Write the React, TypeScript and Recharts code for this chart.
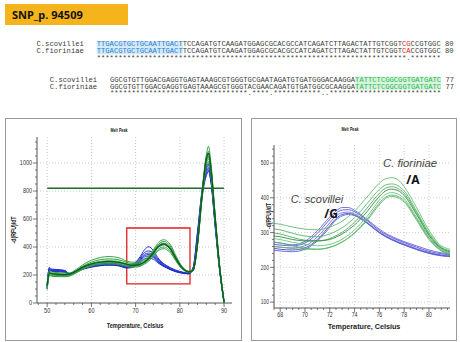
import React from 'react'
import { LineChart, Line, XAxis, YAxis, CartesianGrid, ReferenceArea, ReferenceLine } from 'recharts'

// ---- left panel: full melt curve 50-90 C ----
const leftTemps = [50, 50.5, 51, 52, 53, 54, 55, 56, 58, 60, 62, 64, 66, 68, 69, 70, 71, 72, 73, 74, 75, 76, 76.5, 77, 78, 79, 80, 81, 82, 83, 84, 85, 86, 86.5, 87, 88, 89, 90]

const leftBlue1 = [130, 255, 242, 240, 238, 232, 212, 222, 252, 270, 280, 284, 280, 262, 268, 290, 330, 380, 402, 375, 325, 290, 278, 268, 250, 236, 226, 218, 214, 255, 510, 800, 970, 995, 920, 590, 260, 10]
const leftBlue2 = [120, 250, 238, 236, 234, 230, 210, 220, 250, 268, 278, 282, 278, 260, 265, 285, 320, 360, 372, 355, 315, 285, 273, 264, 246, 233, 223, 216, 212, 250, 500, 790, 960, 985, 910, 580, 250, 5]
const leftBlue3 = [115, 245, 236, 234, 232, 228, 208, 218, 247, 265, 275, 279, 275, 258, 262, 280, 312, 348, 357, 343, 307, 280, 269, 260, 243, 230, 221, 214, 211, 248, 490, 780, 950, 970, 900, 570, 245, 5]
const leftBlue4 = [110, 240, 233, 231, 229, 225, 206, 216, 245, 262, 272, 276, 272, 255, 258, 275, 305, 338, 347, 335, 300, 276, 266, 257, 240, 228, 219, 213, 210, 245, 480, 770, 940, 960, 890, 560, 240, 5]
const leftBlue5 = [105, 236, 230, 228, 226, 222, 204, 214, 242, 259, 269, 273, 269, 252, 255, 270, 298, 328, 336, 327, 295, 272, 262, 254, 238, 226, 218, 212, 209, 242, 470, 760, 925, 950, 880, 550, 235, 5]
const leftBlue6 = [100, 232, 226, 224, 222, 219, 202, 212, 240, 256, 266, 270, 266, 250, 252, 265, 290, 315, 320, 313, 288, 267, 258, 251, 236, 224, 216, 211, 208, 240, 460, 750, 910, 940, 870, 540, 230, 5]

const leftGreen1 = [140, 230, 222, 218, 216, 214, 214, 228, 272, 305, 325, 332, 325, 300, 292, 292, 298, 312, 338, 380, 425, 450, 452, 445, 410, 345, 285, 245, 228, 240, 440, 790, 1060, 1120, 1010, 630, 270, 10]
const leftGreen2 = [130, 220, 214, 210, 208, 206, 208, 222, 262, 292, 310, 315, 310, 290, 283, 282, 288, 303, 330, 370, 413, 437, 440, 433, 398, 336, 280, 242, 226, 238, 430, 775, 1040, 1085, 985, 615, 265, 8]
const leftGreen3 = [120, 212, 206, 202, 200, 199, 202, 216, 255, 282, 298, 302, 298, 280, 274, 274, 280, 296, 322, 360, 402, 426, 428, 421, 388, 328, 275, 240, 224, 236, 425, 765, 1025, 1060, 965, 605, 260, 8]
const leftGreen4 = [110, 205, 200, 197, 196, 195, 198, 212, 250, 276, 290, 294, 290, 274, 268, 268, 274, 290, 315, 352, 392, 413, 415, 408, 376, 320, 270, 237, 222, 234, 420, 755, 1010, 1045, 950, 595, 255, 5]
const leftGreen5 = [100, 200, 196, 193, 192, 191, 195, 208, 245, 270, 283, 286, 283, 268, 262, 262, 268, 284, 308, 343, 380, 399, 400, 394, 364, 312, 265, 234, 220, 232, 415, 745, 995, 1030, 935, 585, 250, 5]
const leftGreen6 = [95, 196, 192, 189, 188, 188, 192, 205, 240, 264, 276, 279, 276, 262, 256, 256, 262, 278, 300, 334, 370, 387, 388, 382, 354, 305, 260, 231, 218, 230, 410, 735, 980, 1010, 920, 575, 245, 5]
const leftGreenDark = [125, 215, 210, 206, 204, 203, 206, 218, 256, 280, 292, 296, 292, 276, 270, 270, 277, 293, 320, 358, 400, 420, 421, 414, 382, 324, 272, 238, 222, 234, 425, 765, 1030, 1070, 970, 605, 258, 6]

const leftBlues = [leftBlue1, leftBlue2, leftBlue3, leftBlue4, leftBlue5, leftBlue6]
const leftGreens = [leftGreen1, leftGreen2, leftGreen3, leftGreen4, leftGreen5, leftGreen6, leftGreenDark]
const leftBlueColors = ['#2b35d8', '#1f2ccf', '#3440e0', '#2030c8', '#2838d6', '#1a28c4']
const leftGreenColors = ['#3aa64a', '#2e9a40', '#45b055', '#2a8f3a', '#3ca84c', '#34a044', '#0b5e1e']

const thresholdLevel = 820
const thresholdFrom = 50
const thresholdTo = 90
const zoomBoxT = [68, 82.3]
const zoomBoxY = [136, 536]

const leftXTicks = [48, 50, 52, 54, 56, 58, 60, 62, 64, 66, 68, 70, 72, 74, 76, 78, 80, 82, 84, 86, 88, 90]
const leftYTicks = [0, 50, 100, 150, 200, 250, 300, 350, 400, 450, 500, 550, 600, 650, 700, 750, 800, 850, 900, 950, 1000, 1050, 1100, 1150]

// ---- right panel: zoom on 68-81 C ----
const rightTemps = [67, 68, 69, 70, 71, 72, 72.5, 73, 73.5, 74, 75, 76, 76.5, 77, 77.5, 78, 79, 80, 81, 82]

const rightBlue1 = [275, 270, 265, 275, 305, 345, 362, 372, 372, 364, 338, 310, 298, 289, 281, 274, 262, 250, 242, 238]
const rightBlue2 = [268, 264, 262, 270, 298, 338, 356, 365, 366, 360, 335, 306, 295, 286, 278, 271, 258, 246, 239, 235]
const rightBlue3 = [262, 258, 256, 262, 288, 328, 348, 357, 359, 354, 330, 302, 291, 282, 274, 267, 254, 243, 236, 233]
const rightBlue4 = [258, 252, 250, 256, 280, 320, 340, 352, 355, 350, 328, 300, 289, 280, 272, 265, 252, 241, 234, 231]
const rightBlue5 = [252, 247, 245, 252, 276, 315, 336, 348, 352, 349, 327, 299, 288, 279, 271, 264, 251, 240, 233, 230]

const rightGreen1 = [328, 324, 316, 310, 308, 316, 323, 333, 346, 362, 402, 442, 455, 458, 452, 432, 372, 307, 262, 250]
const rightGreen2 = [312, 308, 298, 290, 288, 296, 304, 314, 327, 343, 383, 424, 437, 440, 435, 420, 362, 300, 258, 246]
const rightGreen3 = [300, 296, 286, 278, 276, 283, 291, 301, 314, 330, 370, 413, 428, 432, 427, 413, 357, 296, 256, 244]
const rightGreen4 = [292, 288, 280, 276, 276, 280, 287, 296, 308, 322, 360, 404, 420, 425, 421, 407, 352, 292, 254, 242]
const rightGreen5 = [285, 280, 272, 266, 262, 266, 272, 281, 293, 308, 346, 393, 410, 415, 411, 398, 344, 287, 251, 240]
const rightGreen6 = [274, 270, 262, 255, 252, 257, 264, 273, 285, 300, 338, 385, 402, 408, 404, 392, 340, 284, 249, 238]
const rightGreen7 = [262, 258, 254, 252, 252, 258, 264, 273, 284, 298, 334, 380, 398, 404, 400, 388, 336, 280, 247, 236]

const rightBlues = [rightBlue1, rightBlue2, rightBlue3, rightBlue4, rightBlue5]
const rightGreens = [rightGreen1, rightGreen2, rightGreen3, rightGreen4, rightGreen5, rightGreen6, rightGreen7]
const rightBlueColors = ['#6464dc', '#5454d0', '#7272e2', '#4646c4', '#6060d8']
const rightGreenColors = ['#62bd72', '#58b468', '#4caa5e', '#2f8a40', '#6cc47c', '#56b266', '#5db96d']

const rightXTicks = [67.5, 68, 68.5, 69, 69.5, 70, 70.5, 71, 71.5, 72, 72.5, 73, 73.5, 74, 74.5, 75, 75.5, 76, 76.5, 77, 77.5, 78, 78.5, 79, 79.5, 80, 80.5, 81, 81.5]
const rightYTicks = [100, 120, 140, 160, 180, 200, 220, 240, 260, 280, 300, 320, 340, 360, 380, 400, 420, 440, 460, 480, 500, 520, 540]

function buildRows(temps: number[], blues: number[][], greens: number[][]) {
  return temps.map((t, i) => {
    const row: any = { t }
    blues.forEach((c, k) => { row['b' + k] = c[i] })
    greens.forEach((c, k) => { row['g' + k] = c[i] })
    return row
  })
}

const leftRows = buildRows(leftTemps, leftBlues, leftGreens)
const rightRows = buildRows(rightTemps, rightBlues, rightGreens)

const SANS = "'Liberation Sans', Arial, sans-serif"
const MONO = "'Liberation Mono', 'DejaVu Sans Mono', monospace"

// tick renderer: major ticks get a label, minor ones only a short mark
function makeTick(side: string, major: number, fontSize: number, sx: number) {
  return (props: any) => {
    const { x, y, payload } = props
    const v = Number(payload.value)
    const isMajor = Math.abs(v / major - Math.round(v / major)) < 1e-6
    const len = isMajor ? 4 : 2
    if (side === 'left') {
      return (
        <g>
          <line x1={x - len} y1={y} x2={x} y2={y} stroke="#555" strokeWidth={0.8} />
          {isMajor ? (
            <text transform={`translate(${x - 5},${y}) scale(${sx},1)`} textAnchor="end" dy="0.35em" fontSize={fontSize} fill="#333" fontFamily={SANS}>{v}</text>
          ) : null}
        </g>
      )
    }
    if (side === 'bottom') {
      return (
        <g>
          <line x1={x} y1={y} x2={x} y2={y + len} stroke="#555" strokeWidth={0.8} />
          {isMajor ? (
            <text transform={`translate(${x},${y + 4}) scale(${sx},1)`} textAnchor="middle" dy="0.8em" fontSize={fontSize} fill="#333" fontFamily={SANS}>{v}</text>
          ) : null}
        </g>
      )
    }
    if (side === 'top') {
      return <line x1={x} y1={y} x2={x} y2={y + len} stroke="#888" strokeWidth={0.7} />
    }
    return <line x1={x - len} y1={y} x2={x} y2={y} stroke="#888" strokeWidth={0.7} />
  }
}

type Seg = { t: string; color?: string; bg?: string }
const CW = 4.3

// one alignment row; each segment is placed by its character offset
function SeqRow({ x, y, segs }: { x: number; y: number; segs: Seg[] }) {
  let off = 0
  const out: any[] = []
  segs.forEach((s, i) => {
    const lead = s.t.length - s.t.trimStart().length
    const body = s.t.trim()
    const sx = x + (off + lead) * CW
    if (body.length > 0) {
      if (s.bg) out.push(<rect key={'r' + i} x={sx} y={y - 5.4} width={body.length * CW} height={6.8} fill={s.bg} />)
      out.push(
        <text key={'t' + i} x={sx} y={y} fontSize={7.17} fontFamily={MONO} fill={s.color || '#3c3c3c'} textLength={body.length * CW} lengthAdjust="spacingAndGlyphs">{body}</text>
      )
    }
    off += s.t.length
  })
  return <g>{out}</g>
}

const primerBlue = { color: '#2a7fd0', bg: '#d3e9f8' }
const primerGreen = { color: '#2fb84e', bg: '#d6f4de' }

const seq1Sco: Seg[] = [
  { t: 'C.scovillei   ' },
  { t: 'TTGACGTGCTGCAATTGACT', ...primerBlue },
  { t: 'TCCAGATGTCAAGATGGAGCGCACGCCATCAGATCTTAGACTATTGTCGGT' },
  { t: 'CG', color: '#e02424' },
  { t: 'CCGTGGC ' },
  { t: '80' },
]
const seq1Fio: Seg[] = [
  { t: 'C.fioriniae   ' },
  { t: 'TTGACGTGCTGCAATTGACT', ...primerBlue },
  { t: 'TCCAGATGTCAAGATGGAGCGCACGCCATCAGATCTTAGACTATTGTCGGT' },
  { t: 'CA', color: '#e02424' },
  { t: 'CCGTGGC ' },
  { t: '80' },
]
const seq1Stars: Seg[] = [
  { t: '              ' },
  { t: '************************************************************************' },
  { t: '.', color: '#e02424' },
  { t: '*******' },
]
const seq2Sco: Seg[] = [
  { t: 'C.scovillei   ' },
  { t: 'GGCGTGTTGGACGAGGTGAGTAAAGCGTGGGTGCGAATAGATGTGATGGGACAAGGA' },
  { t: 'TATTCTCGGCGGTGATGATC', ...primerGreen },
  { t: ' ' },
  { t: '77' },
]
const seq2Fio: Seg[] = [
  { t: 'C.fioriniae   ' },
  { t: 'GGCGTGTTGGACGAGGTGAGTAAAGCGTGGGTACGAACAGATGTGATGGCGCAAGGA' },
  { t: 'TATTCTCGGCGGTGATGATC', ...primerGreen },
  { t: ' ' },
  { t: '77' },
]
const seq2Stars: Seg[] = [
  { t: '              ' },
  { t: '********************************' },
  { t: '.' },
  { t: '****' },
  { t: '.' },
  { t: '***********' },
  { t: '..' },
  { t: '**************************' },
]

function Overlay({ x, y, text, size, weight = 400, italic = false, sx = 1, rotate = 0, color = '#222', font = SANS }: any) {
  return (
    <div
      style={{
        position: 'absolute', left: x, top: y, whiteSpace: 'nowrap', fontFamily: font, fontSize: size,
        fontWeight: weight, fontStyle: italic ? 'italic' : 'normal', color, lineHeight: 1,
        transform: `translate(-50%,-50%) rotate(${rotate}deg) scale(${sx},1)`,
      }}
    >
      {text}
    </div>
  )
}

export default function App() {
  return (
    <div style={{ position: 'absolute', left: 0, top: 0, width: 460, height: 342, background: '#fff', overflow: 'hidden' }}>
      {/* header label */}
      <div style={{ position: 'absolute', left: 5, top: 4, width: 123, height: 21, background: '#f5b31c' }} />
      <div style={{ position: 'absolute', left: 12, top: 8, fontFamily: "'Noto Sans', sans-serif", fontWeight: 700, fontSize: 11, lineHeight: '13px', color: '#111' }}>SNP_p. 94509</div>

      {/* alignment */}
      <svg width={460} height={110} style={{ position: 'absolute', left: 0, top: 0 }}>
        <SeqRow x={36.5} y={46.4} segs={seq1Sco} />
        <SeqRow x={36.5} y={53} segs={seq1Fio} />
        <SeqRow x={36.5} y={59.8} segs={seq1Stars} />
        <SeqRow x={49.8} y={81.9} segs={seq2Sco} />
        <SeqRow x={49.8} y={88.5} segs={seq2Fio} />
        <SeqRow x={49.8} y={95.3} segs={seq2Stars} />
      </svg>

      {/* panel frames */}
      <div style={{ position: 'absolute', left: 5, top: 118, width: 235, height: 221, border: '1px solid #9a9a9a' }} />
      <div style={{ position: 'absolute', left: 251, top: 118, width: 204, height: 221, border: '1px solid #9a9a9a' }} />

      {/* left chart */}
      <div style={{ position: 'absolute', left: 5, top: 118, width: 237, height: 222 }}>
        <LineChart width={237} height={222} data={leftRows} margin={{ top: 19, right: 10, left: 0, bottom: 0 }}>
          <CartesianGrid stroke="#c9c9c9" strokeDasharray="1 2" verticalValues={[50, 60, 70, 80, 90]} horizontalValues={[200, 400, 600, 800, 1000]} />
          <XAxis dataKey="t" type="number" domain={[47.7, 91.8]} allowDataOverflow ticks={leftXTicks} interval={0} height={37} tickSize={0} tickMargin={0} tickLine={false} axisLine={{ stroke: '#555' }} tick={makeTick('bottom', 10, 7, 0.8)} />
          <YAxis type="number" domain={[0, 1186]} allowDataOverflow ticks={leftYTicks} interval={0} width={32} tickSize={0} tickMargin={0} tickLine={false} axisLine={{ stroke: '#555' }} tick={makeTick('left', 200, 7, 0.78)} />
          <XAxis xAxisId="top" orientation="top" type="number" domain={[47.7, 91.8]} allowDataOverflow ticks={leftXTicks} interval={0} height={0} tickSize={0} tickMargin={0} tickLine={false} axisLine={{ stroke: '#999' }} tick={makeTick('top', 10, 7, 1)} />
          <YAxis yAxisId="right" orientation="right" type="number" domain={[0, 1186]} allowDataOverflow ticks={leftYTicks} interval={0} width={0} tickSize={0} tickMargin={0} tickLine={false} axisLine={{ stroke: '#999' }} tick={makeTick('right', 200, 7, 1)} />
          {leftBlues.map((_, k) => (
            <Line key={'b' + k} dataKey={'b' + k} type="monotone" stroke={leftBlueColors[k]} strokeWidth={1} dot={false} isAnimationActive={false} />
          ))}
          {leftGreens.map((_, k) => (
            <Line key={'g' + k} dataKey={'g' + k} type="monotone" stroke={leftGreenColors[k]} strokeWidth={k === leftGreens.length - 1 ? 1.4 : 1} dot={false} isAnimationActive={false} />
          ))}
          <ReferenceLine segment={[{ x: thresholdFrom, y: thresholdLevel }, { x: thresholdTo, y: thresholdLevel }]} stroke="#1d6b2a" strokeWidth={1.5} />
          <ReferenceArea x1={zoomBoxT[0]} x2={zoomBoxT[1]} y1={zoomBoxY[0]} y2={zoomBoxY[1]} fill="none" fillOpacity={0} stroke="#e02020" strokeWidth={1.3} />
        </LineChart>
      </div>

      {/* right chart */}
      <div style={{ position: 'absolute', left: 251, top: 118, width: 206, height: 222 }}>
        <LineChart width={206} height={222} data={rightRows} margin={{ top: 27, right: 7, left: 0, bottom: 0 }}>
          <CartesianGrid stroke="#d0d0d0" strokeDasharray="1 2" verticalValues={[68, 70, 72, 74, 76, 78, 80]} horizontalValues={[100, 200, 300, 400, 500]} />
          <XAxis dataKey="t" type="number" domain={[67.5, 81.7]} allowDataOverflow ticks={rightXTicks} interval={0} height={32} tickSize={0} tickMargin={0} tickLine={false} axisLine={{ stroke: '#555' }} tick={makeTick('bottom', 2, 6.5, 0.8)} />
          <YAxis type="number" domain={[83, 552]} allowDataOverflow ticks={rightYTicks} interval={0} width={23} tickSize={0} tickMargin={0} tickLine={false} axisLine={{ stroke: '#555' }} tick={makeTick('left', 100, 6.5, 0.75)} />
          <XAxis xAxisId="top" orientation="top" type="number" domain={[67.5, 81.7]} allowDataOverflow ticks={rightXTicks} interval={0} height={0} tickSize={0} tickMargin={0} tickLine={false} axisLine={{ stroke: '#999' }} tick={makeTick('top', 2, 6.5, 1)} />
          <YAxis yAxisId="right" orientation="right" type="number" domain={[83, 552]} allowDataOverflow ticks={rightYTicks} interval={0} width={0} tickSize={0} tickMargin={0} tickLine={false} axisLine={{ stroke: '#999' }} tick={makeTick('right', 100, 6.5, 1)} />
          {rightBlues.map((_, k) => (
            <Line key={'b' + k} dataKey={'b' + k} type="monotone" stroke={rightBlueColors[k]} strokeWidth={0.9} dot={false} isAnimationActive={false} />
          ))}
          {rightGreens.map((_, k) => (
            <Line key={'g' + k} dataKey={'g' + k} type="monotone" stroke={rightGreenColors[k]} strokeWidth={0.9} dot={false} isAnimationActive={false} />
          ))}
        </LineChart>
      </div>

      {/* chart texts */}
      <Overlay x={119} y={130} text="Melt Peak" size={6} weight={700} sx={0.62} />
      <Overlay x={350} y={129} text="Melt Peak" size={6} weight={700} sx={0.62} />
      <Overlay x={135} y={326} text="Temperature, Celsius" size={8} weight={700} sx={0.7} />
      <Overlay x={364} y={327} text="Temperature, Celsius" size={8} weight={700} sx={0.9} />
      <Overlay x={13} y={230} text="-d(RFU)/dT" size={7} weight={700} sx={0.75} rotate={-90} />
      <Overlay x={267.5} y={215.5} text="-d(RFU)/dT" size={7} weight={700} sx={0.72} rotate={-90} />

      <Overlay x={410} y={164} text="C. fioriniae" size={11.3} italic color="#444" />
      <Overlay x={413} y={180} text="/A" size={12} weight={700} color="#111" font="'Noto Sans', sans-serif" />
      <Overlay x={317} y={199} text="C. scovillei" size={11} italic color="#444" />
      <Overlay x={331} y={214} text="/G" size={12} weight={700} color="#111" font="'Noto Sans', sans-serif" />
    </div>
  )
}
